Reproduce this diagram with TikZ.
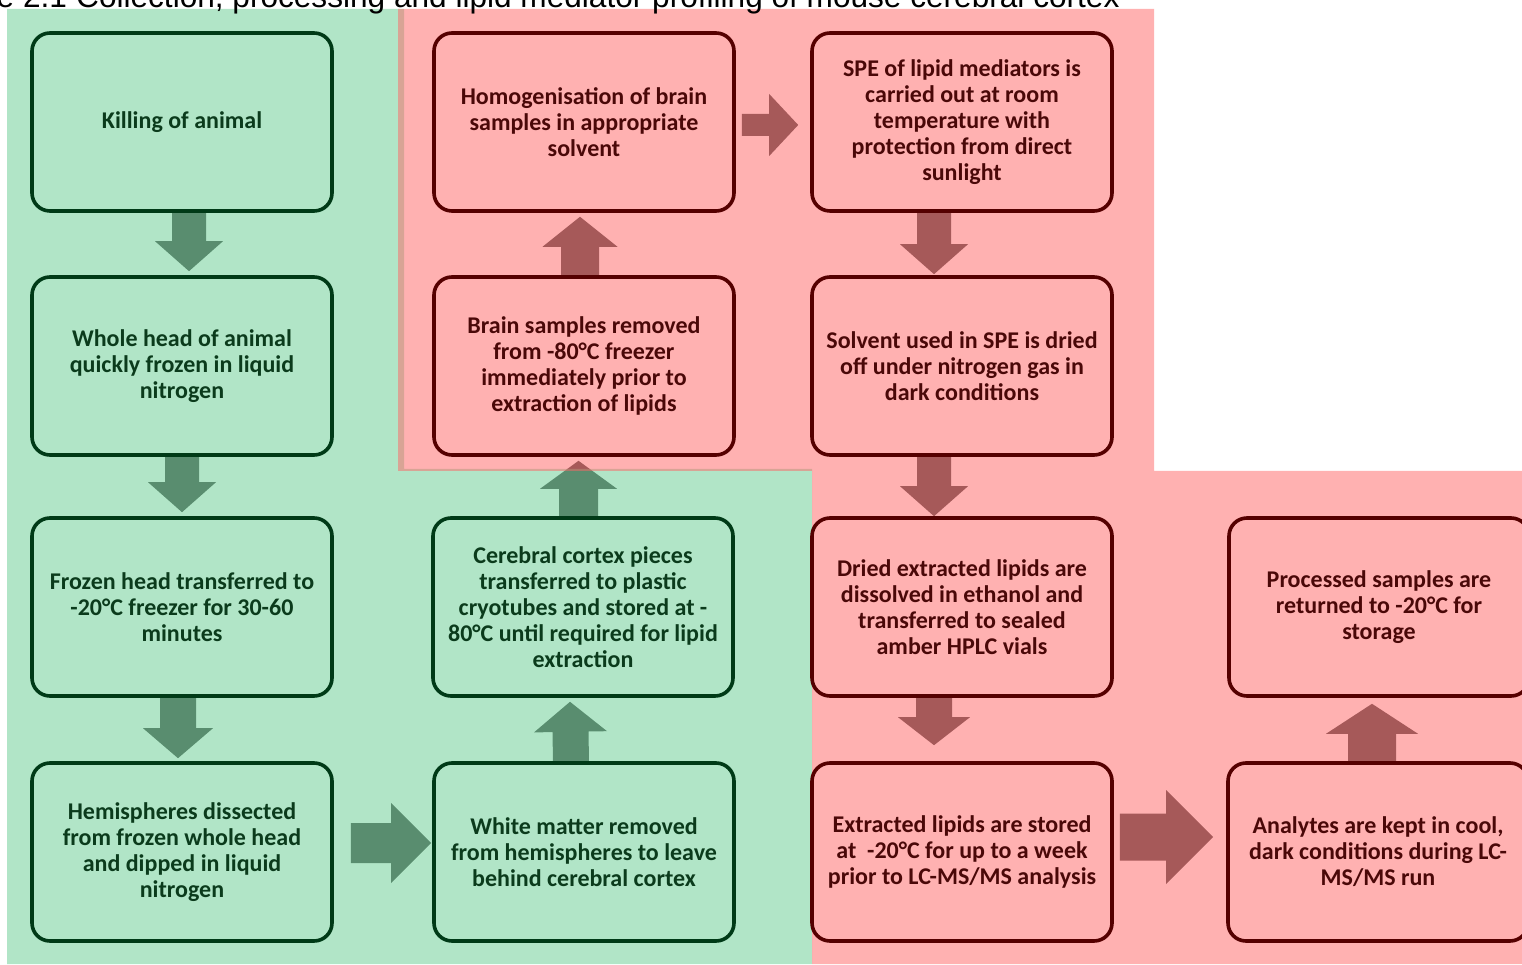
\documentclass[tikz,border=0pt]{standalone}
\usepackage{fontspec}
\setmainfont{Carlito}
\newfontfamily\titlefont{Liberation Sans}
\usetikzlibrary{calc}

\definecolor{greentint}{RGB}{101,205,145}
\definecolor{redtint}{RGB}{255,101,101}
\definecolor{arrowgray}{RGB}{77,77,77}
\definecolor{greenline}{RGB}{0,58,23}
\definecolor{greentext}{RGB}{11,59,28}
\definecolor{redline}{RGB}{85,0,0}
\definecolor{redtext}{RGB}{74,8,8}

\pgfdeclarelayer{arrowlayer}
\pgfdeclarelayer{tintlayer}
\pgfsetlayers{arrowlayer,tintlayer,main}

\tikzset{
  stepbox/.style={rectangle, rounded corners=18pt, line width=3.6pt,
    minimum width=300pt, minimum height=178pt, inner sep=0pt,
    align=center, font=\bfseries\fontsize{24}{26}\selectfont},
  greenbox/.style={stepbox, draw=greenline, text=greentext},
  redbox/.style={stepbox, draw=redline, text=redtext},
  tint/.style={fill opacity=0.5},
}

% block arrow: tail, tip, shaft half-width, head half-width, head length
\newcommand\fatarrow[5]{%
  \path ($(#2)!#5!(#1)$) coordinate (fa-neck);
  \fill[arrowgray] ($(#1)!#3!90:(#2)$) -- ($(fa-neck)!#3!90:(#2)$)
    -- ($(fa-neck)!#4!90:(#2)$) -- (#2) -- ($(fa-neck)!#4!-90:(#2)$)
    -- ($(fa-neck)!#3!-90:(#2)$) -- ($(#1)!#3!-90:(#2)$) -- cycle;
}

\begin{document}
\begin{tikzpicture}[x=1pt,y=1pt]
\useasboundingbox (0,0) rectangle (1522,964);

% ---- steps: collection (green) ----
\node[greenbox] (k1) at (182,842) {Killing of animal};
\node[greenbox] (k2) at (182,598) {Whole head of animal\\quickly frozen in liquid\\nitrogen};
\node[greenbox] (k3) at (182,357) {Frozen head transferred to\\-20°C freezer for 30-60\\minutes};
\node[greenbox] (k4) at (182,112) {Hemispheres dissected\\from frozen whole head\\and dipped in liquid\\nitrogen};
\node[greenbox] (w) at (584,112) {White matter removed\\from hemispheres to leave\\behind cerebral cortex};
\node[greenbox] (c) at (583,357) {Cerebral cortex pieces\\transferred to plastic\\cryotubes and stored at -\\80°C until required for lipid\\extraction};

% ---- steps: processing (red) ----
\node[redbox] (b) at (584,598) {Brain samples removed\\from -80°C freezer\\immediately prior to\\extraction of lipids};
\node[redbox] (h) at (584,842) {Homogenisation of brain\\samples in appropriate\\solvent};
\node[redbox] (s) at (962,842) {SPE of lipid mediators is\\carried out at room\\temperature with\\protection from direct\\sunlight};
\node[redbox] (sv) at (962,598) {Solvent used in SPE is dried\\off under nitrogen gas in\\dark conditions};
\node[redbox] (d) at (962,357) {Dried extracted lipids are\\dissolved in ethanol and\\transferred to sealed\\amber HPLC vials};
\node[redbox] (e) at (962,112) {Extracted lipids are stored\\at~ -20°C for up to a week\\prior to LC-MS/MS analysis};
\node[redbox] (a) at (1378,112) {Analytes are kept in cool,\\dark conditions during LC-\\MS/MS run};
\node[redbox] (p) at (1379,357) {Processed samples are\\returned to -20°C for\\storage};

% ---- caption line ----
\node[anchor=base west, inner sep=0pt, font=\titlefont\fontsize{31.6}{34}\selectfont] (ttl) at (76,956.7)
  {Collection, processing and lipid mediator profiling of mouse cerebral cortex};
\node[anchor=base east, inner sep=0pt, font=\titlefont\fontsize{31.6}{34}\selectfont] (fig) at ($(ttl.base west)+(-8.8,0)$)
  {Figure 2.1};

% ---- block arrows ----
\begin{pgfonlayer}{arrowlayer}
\fill[white] (0,0) rectangle (1522,964);
\coordinate (a1t) at ($(k1.south)+(7,2)$);   \coordinate (a1h) at ($(k2.north)+(7,4)$);
\coordinate (a2t) at ($(k2.south)+(0,2)$);   \coordinate (a2h) at ($(k3.north)+(0,4)$);
\coordinate (a3t) at ($(k3.south)+(-4,2)$);  \coordinate (a3h) at ($(k4.north)+(-4,3)$);
\coordinate (a4t) at ($(k4.east)+(17,9)$);   \coordinate (a4h) at ($(w.west)+(-1,9)$);
\coordinate (a5t) at ($(w.north)+(-13,-1)$); \coordinate (a5h) at ($(c.south)+(-13,-4)$);
\coordinate (a6t) at ($(c.north)+(-4.5,-1)$);\coordinate (a6h) at ($(b.south)+(-5.5,-4)$);
\coordinate (a7t) at ($(b.north)+(-4,-1)$);  \coordinate (a7h) at ($(h.south)+(-4,-4)$);
\coordinate (a8t) at ($(h.east)+(6,-3)$);    \coordinate (a8h) at ($(s.west)+(-12,-3)$);
\coordinate (a9t) at ($(s.south)+(-28,2)$);  \coordinate (a9h) at ($(sv.north)+(-28,1)$);
\coordinate (a10t) at ($(sv.south)+(-28,2)$);\coordinate (a10h) at ($(d.north)+(-28,0)$);
\coordinate (a11t) at ($(d.south)+(-28,1)$); \coordinate (a11h) at ($(e.north)+(-28,16)$);
\coordinate (a12t) at ($(e.east)+(6,15)$);   \coordinate (a12h) at ($(a.west)+(-13,15)$);
\coordinate (a13t) at ($(a.north)+(-6,-1)$); \coordinate (a13h) at ($(p.south)+(-7,-6)$);
\fatarrow{a1t}{a1h}{17pt}{34pt}{30pt}
\fatarrow{a2t}{a2h}{17pt}{34pt}{30pt}
\fatarrow{a3t}{a3h}{18pt}{35pt}{30pt}
\fatarrow{a4t}{a4h}{20pt}{40pt}{40pt}
\fatarrow{a5t}{a5h}{18pt}{36.5pt}{30pt}
\fatarrow{a6t}{a6h}{19.5pt}{38.5pt}{28pt}
\fatarrow{a7t}{a7h}{19pt}{37.5pt}{30pt}
\fatarrow{a8t}{a8h}{11pt}{31pt}{29pt}
\fatarrow{a9t}{a9h}{17pt}{34pt}{30pt}
\fatarrow{a10t}{a10h}{17pt}{34pt}{30pt}
\fatarrow{a11t}{a11h}{18pt}{36pt}{28pt}
\fatarrow{a12t}{a12h}{23.5pt}{47pt}{47pt}
\fatarrow{a13t}{a13h}{24pt}{46pt}{30pt}
\end{pgfonlayer}

% ---- tinted stage panels ----
\begin{pgfonlayer}{tintlayer}
\fill[greentint, tint] (7,955) -- (404,955) -- (404,495) -- (812,495) -- (812,0) -- (7,0) -- cycle;
\fill[redtint, tint] (398,955) -- (1154,955) -- (1154,493) -- (1530,493) -- (1530,0)
  -- (812,0) -- (812,493) -- (398,493) -- cycle;
\end{pgfonlayer}
\end{tikzpicture}
\end{document}
